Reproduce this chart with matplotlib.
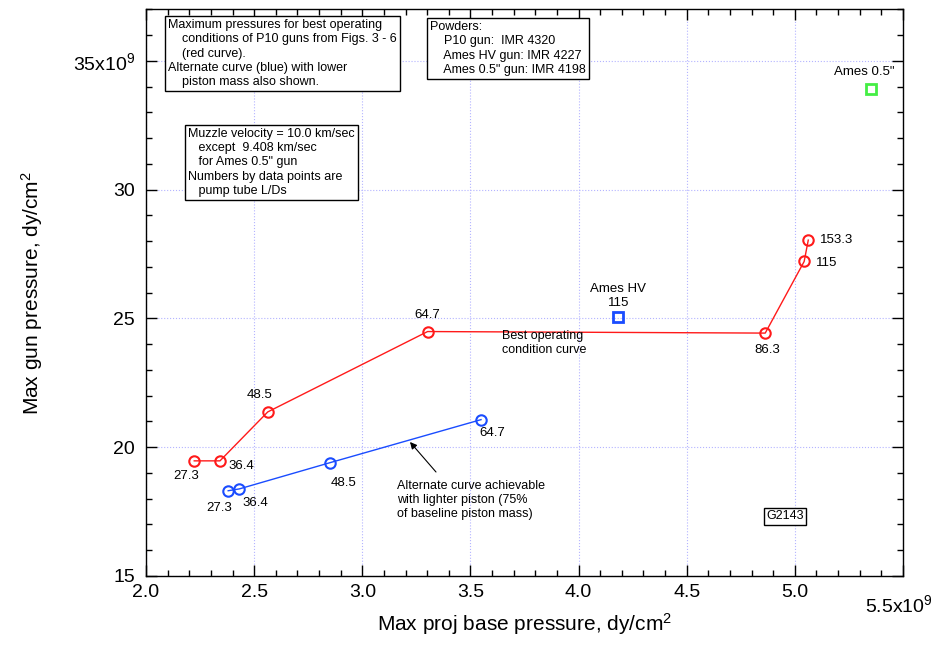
import numpy as np
import matplotlib
matplotlib.use("Agg")
import matplotlib.pyplot as plt
from matplotlib.ticker import MultipleLocator

plt.rcParams['font.family'] = ['Liberation Sans', 'DejaVu Sans']
plt.rcParams['mathtext.fontset'] = 'custom'
plt.rcParams['mathtext.rm'] = 'Liberation Sans'

# best operating condition curve (red), x and y in units of 1e9 dy/cm^2
red_x = [2.223, 2.342, 2.563, 3.302, 4.863, 5.043, 5.062]
red_y = [19.47, 19.47, 21.37, 24.49, 24.43, 27.21, 28.04]
red_ld = ['27.3', '36.4', '48.5', '64.7', '86.3', '115', '153.3']

# alternate curve, lighter piston (blue)
blue_x = [2.380, 2.431, 2.851, 3.549]
blue_y = [18.31, 18.38, 19.40, 21.07]
blue_ld = ['27.3', '36.4', '48.5', '64.7']

# Ames guns
ames_hv_x, ames_hv_y = [4.184], [25.07]
ames_05_x, ames_05_y = [5.350], [33.92]

xticks = [2.0, 2.5, 3.0, 3.5, 4.0, 4.5, 5.0, 5.5]
xticklabels = ['2.0', '2.5', '3.0', '3.5', '4.0', '4.5', '5.0', '']
yticks = [15, 20, 25, 30, 35]
yticklabels = ['15', '20', '25', '30', r'35x10$\mathregular{^9}$']

W, H = 943, 662


def px(x, y):
    # image pixel (top-left origin) -> figure fraction
    return x / W, 1 - y / H


fig = plt.figure(figsize=(W / 100, H / 100), dpi=100)
ax = fig.add_axes([146 / W, (H - 576) / H, (903 - 146) / W, (576 - 9.3) / H])

red = '#ff1a1a'
blue = '#1a4cff'

ax.plot(red_x, red_y, color=red, lw=1, marker='o', ms=7.5, mfc='none',
        mec=red, mew=1.5, zorder=3)
ax.plot(blue_x, blue_y, color=blue, lw=1, marker='o', ms=7.5, mfc='none',
        mec=blue, mew=1.5, zorder=3)
ax.plot(ames_hv_x, ames_hv_y, ls='none', marker='s', ms=6.5, mfc='none',
        mec=blue, mew=2, zorder=3)
ax.plot(ames_05_x, ames_05_y, ls='none', marker='s', ms=6.5, mfc='none',
        mec='#44ee44', mew=2, zorder=3)

# point labels (offsets in pixels)
red_off = [(-8, -15), (21, -5), (-8, 17), (0, 17), (2, -17), (22, -2), (28, 0)]
blue_off = [(-9, -17), (16, -14), (14, -20), (11, -13)]
for x, y, s, o in zip(red_x, red_y, red_ld, red_off):
    ax.annotate(s, (x, y), xytext=o, textcoords='offset pixels',
                ha='center', va='center', fontsize=9.5)
for x, y, s, o in zip(blue_x, blue_y, blue_ld, blue_off):
    ax.annotate(s, (x, y), xytext=o, textcoords='offset pixels',
                ha='center', va='center', fontsize=9.5)
ax.annotate('Ames HV', (ames_hv_x[0], ames_hv_y[0]), xytext=(0, 28),
            textcoords='offset pixels', ha='center', va='center', fontsize=9.5)
ax.annotate('115', (ames_hv_x[0], ames_hv_y[0]), xytext=(0, 14),
            textcoords='offset pixels', ha='center', va='center', fontsize=9.5)
ax.annotate('Ames 0.5"', (ames_05_x[0], ames_05_y[0]), xytext=(-6, 17),
            textcoords='offset pixels', ha='center', va='center', fontsize=9.5)

# axes styling
ax.set_xlim(2.0, 5.5)
ax.set_ylim(15, 37)
ax.set_xticks(xticks, xticklabels, fontsize=14)
ax.set_yticks(yticks, yticklabels, fontsize=14)
ax.xaxis.set_minor_locator(MultipleLocator(0.1))
ax.yaxis.set_minor_locator(MultipleLocator(1))
ax.tick_params(which='both', direction='in', top=True, right=True, width=1)
ax.tick_params(which='major', length=8)
ax.tick_params(which='minor', length=4)
ax.tick_params(axis='x', pad=6)
ax.tick_params(axis='y', pad=8)
ax.grid(True, which='major', color='#b4b4ff', ls=':', lw=0.8)
for sp in ax.spines.values():
    sp.set_linewidth(1)

fig.text(*px(899, 605), r'5.5x10$\mathregular{^9}$', fontsize=14,
         ha='center', va='center')

ax.set_xlabel(r'Max proj base pressure, dy/cm$\mathregular{^2}$', fontsize=15)
ax.xaxis.set_label_coords(0.5, -0.062)
ax.set_ylabel(r'Max gun pressure, dy/cm$\mathregular{^2}$', fontsize=15)
ax.yaxis.set_label_coords(-0.133, 0.50)

# text boxes
box = dict(boxstyle='square,pad=0.25', fc='white', ec='black', lw=1)
fig.text(*px(168, 19),
         "Maximum pressures for best operating\n"
         "    conditions of P10 guns from Figs. 3 - 6\n"
         "    (red curve).\n"
         "Alternate curve (blue) with lower\n"
         "    piston mass also shown.",
         fontsize=9, ha='left', va='top', bbox=box, linespacing=1.25)
fig.text(*px(430, 21),
         "Powders:\n"
         "    P10 gun:  IMR 4320\n"
         "    Ames HV gun: IMR 4227\n"
         "    Ames 0.5\" gun: IMR 4198",
         fontsize=9, ha='left', va='top', bbox=box, linespacing=1.25)
fig.text(*px(188, 128),
         "Muzzle velocity = 10.0 km/sec\n"
         "   except  9.408 km/sec\n"
         "   for Ames 0.5\" gun\n"
         "Numbers by data points are\n"
         "   pump tube L/Ds",
         fontsize=9, ha='left', va='top', bbox=box, linespacing=1.25)
fig.text(*px(785, 516), "G2143", fontsize=9, ha='center', va='center',
         bbox=dict(boxstyle='square,pad=0.2', fc='white', ec='black', lw=1))

fig.text(*px(502, 343), "Best operating\ncondition curve", fontsize=9,
         ha='left', va='center', linespacing=1.25)
fig.text(*px(397, 500),
         "Alternate curve achievable\nwith lighter piston (75%\nof baseline piston mass)",
         fontsize=9, ha='left', va='center', linespacing=1.2)
ax.annotate('', xy=px(410, 442), xycoords='figure fraction',
            xytext=px(436, 472), textcoords='figure fraction',
            arrowprops=dict(arrowstyle='-|>', color='black', lw=0.8,
                            mutation_scale=10, shrinkA=0, shrinkB=0))

fig.savefig('out.png', dpi=100)
